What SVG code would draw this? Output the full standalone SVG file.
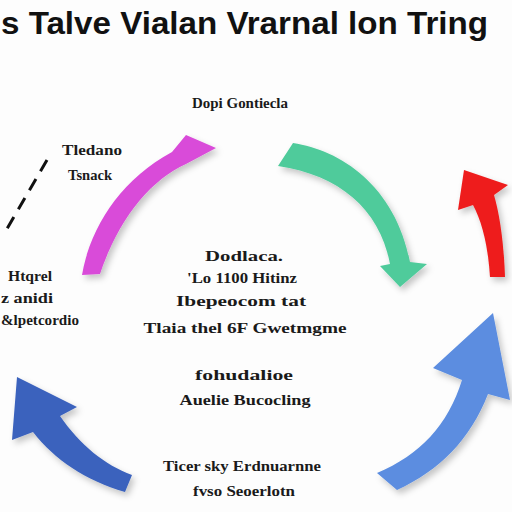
<svg xmlns="http://www.w3.org/2000/svg" width="512" height="512" viewBox="0 0 512 512">
<style>
.t{font-family:"Liberation Serif","DejaVu Serif",serif;font-weight:bold;fill:#1a1a1a}
.title{font-family:"Liberation Sans","DejaVu Sans",sans-serif;font-weight:bold;fill:#111;font-size:32px}
</style>
<defs>
<filter id="sh" x="-20%" y="-20%" width="140%" height="140%">
<feDropShadow dx="3" dy="4" stdDeviation="3" flood-color="#000" flood-opacity="0.22"/>
</filter>
</defs>
<rect width="512" height="512" fill="#fdfdfd"/>
<text class="title" x="1" y="34" textLength="487" lengthAdjust="spacingAndGlyphs">s Talve Vialan Vrarnal lon Tring</text>
<g id="connectors">
<path id="magenta" filter="url(#sh)" fill="#d94bd9" d="M82,275 C90,228 120,180 172,152 L186,135 L216,148 L186,164 C150,180 118,220 100,274 Z"/>
<path id="green" filter="url(#sh)" fill="#4fcb9b" d="M293,143 C340,150 395,185 410,262 L427,264 L400,287 L380,266 L390,264 C380,210 340,175 278,166 Z"/>
<path id="red" filter="url(#sh)" fill="#ee1c1c" d="M490,277 C488,245 482,222 473,205 L458,210 L464,170 L508,185 L494,195 C500,215 504,245 505,277 Z"/>
<path id="darkblue" filter="url(#sh)" fill="#3b62bd" d="M17,377 L77,407 L60,416 C80,445 105,465 132,475 L125,492 C85,480 55,460 33,432 L12,440 Z"/>
<path id="lightblue" filter="url(#sh)" fill="#5b8de0" d="M493,313 L510,400 L488,394 C470,440 440,470 397,490 L377,473 C420,455 448,425 462,380 L433,368 Z"/>
<line x1="47" y1="160" x2="4" y2="234" stroke="#111" stroke-width="3" stroke-dasharray="13 9"/>
</g>
<g id="top-label"><text class="t" x="240" y="108" font-size="14" text-anchor="middle" textLength="96" lengthAdjust="spacingAndGlyphs">Dopi Gontiecla</text></g>
<g id="left-top-label">
<text class="t" x="92" y="155" font-size="15" text-anchor="middle" textLength="60" lengthAdjust="spacingAndGlyphs">Tledano</text>
<text class="t" x="90" y="180" font-size="15" text-anchor="middle" textLength="44" lengthAdjust="spacingAndGlyphs">Tsnack</text>
</g>
<g id="left-label">
<text class="t" x="30" y="281" font-size="15" text-anchor="middle" textLength="44" lengthAdjust="spacingAndGlyphs">Htqrel</text>
<text class="t" x="27" y="303" font-size="15" text-anchor="middle" textLength="52" lengthAdjust="spacingAndGlyphs">z anidi</text>
<text class="t" x="40" y="325" font-size="15" text-anchor="middle" textLength="78" lengthAdjust="spacingAndGlyphs">&amp;lpetcordio</text>
</g>
<g id="center-label">
<text class="t" x="244" y="261" font-size="15" text-anchor="middle" textLength="78" lengthAdjust="spacingAndGlyphs">Dodlaca.</text>
<text class="t" x="242" y="283" font-size="15" text-anchor="middle" textLength="110" lengthAdjust="spacingAndGlyphs">'Lo 1100 Hitinz</text>
<text class="t" x="241" y="306" font-size="15" text-anchor="middle" textLength="130" lengthAdjust="spacingAndGlyphs">Ibepeocom tat</text>
<text class="t" x="245" y="333" font-size="15" text-anchor="middle" textLength="203" lengthAdjust="spacingAndGlyphs">Tlaia thel 6F Gwetmgme</text>
</g>
<g id="middle-label">
<text class="t" x="244" y="380" font-size="15" text-anchor="middle" textLength="98" lengthAdjust="spacingAndGlyphs">fohudalioe</text>
<text class="t" x="245" y="405" font-size="15" text-anchor="middle" textLength="131" lengthAdjust="spacingAndGlyphs">Auelie Bucocling</text>
</g>
<g id="bottom-label">
<text class="t" x="242" y="471" font-size="15" text-anchor="middle" textLength="158" lengthAdjust="spacingAndGlyphs">Ticer sky Erdnuarnne</text>
<text class="t" x="244" y="496" font-size="15" text-anchor="middle" textLength="102" lengthAdjust="spacingAndGlyphs">fvso Seoerlotn</text>
</g>
</svg>
